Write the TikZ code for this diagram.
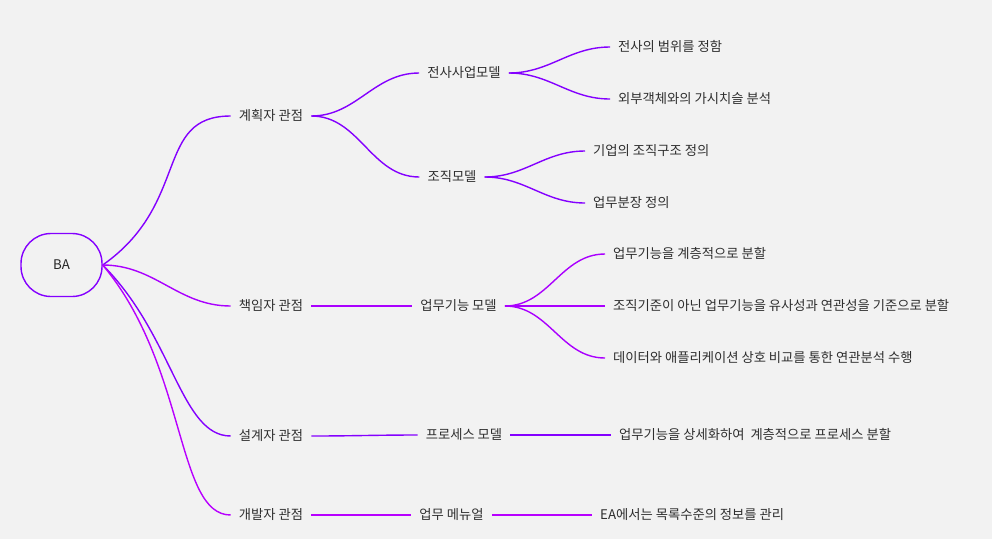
\documentclass[tikz,border=0pt]{standalone}
\usepackage{fontspec}
\setmainfont{Noto Sans CJK KR}
\usetikzlibrary{positioning}
\definecolor{mmBg}{HTML}{F2F2F2}
\definecolor{mmText}{HTML}{2E2E2E}
\definecolor{mmViolet}{HTML}{8400FF}
\definecolor{mmPurple}{HTML}{AA00FF}
\definecolor{mmMagenta}{HTML}{B800FF}

\begin{document}
\begin{tikzpicture}[
      x=1pt, y=-1pt,
      font=\fontsize{13.3}{15}\selectfont,
      lbl/.style={inner xsep=8pt, inner ysep=0pt, text height=9.5pt, text depth=0pt,
                  text=mmText},
      leaf/.style={lbl, anchor=west},
      rootbox/.style={draw=mmViolet, line width=1.4pt, rounded corners=30pt,
                  minimum width=81pt, minimum height=63pt, text=black!85},
      edge/.style={line width=1.4pt, out=0, in=180},
    ]

    % ---------- background ----------
    \fill[mmBg] (0,0) rectangle (992,539);
    \useasboundingbox (0,0) rectangle (992,539);

    % ---------- root ----------
    \node[rootbox] (ba) at (61.5,265) {BA};

    % ---------- perspectives ----------
    \node[lbl] (p1) at (271,116) {계획자 관점};
    \node[lbl] (p2) at (271,306) {책임자 관점};
    \node[lbl] (p3) at (271,436) {설계자 관점};
    \node[lbl] (p4) at (271,515) {개발자 관점};

    % ---------- models ----------
    \node[lbl] (m1) at (464,73)    {전사사업모델};
    \node[lbl] (m2) at (452,177)   {조직모델};
    \node[lbl] (m3) at (458.5,306) {업무기능 모델};
    \node[lbl] (m4) at (464,435)   {프로세스 모델};
    \node[lbl] (m5) at (451.5,515) {업무 메뉴얼};

    % ---------- details ----------
    \node[leaf] (d1)  at (610,47)  {전사의 범위를 정함};
    \node[leaf] (d2)  at (610,99)  {외부객체와의 가시치슬 분석};
    \node[leaf] (d3)  at (585,151) {기업의 조직구조 정의};
    \node[leaf] (d4)  at (585,203) {업무분장 정의};
    \node[leaf] (d5)  at (605,254) {업무기능을 계층적으로 분할};
    \node[leaf] (d6)  at (605,306) {조직기준이 아닌 업무기능을 유사성과 연관성을 기준으로 분할};
    \node[leaf] (d7)  at (605,358) {데이터와 애플리케이션 상호 비교를 통한 연관분석 수행};
    \node[leaf] (d8)  at (611,435) {업무기능을 상세화하여~ 계층적으로 프로세스 분할};
    \node[leaf] (d9)  at (592,515) {EA에서는 목록수준의 정보를 관리};

    % ---------- root -> perspectives ----------
    \foreach \b/\o/\ol/\il/\c in {p1/35/1.4/1/mmViolet, p2/0/1/1/mmPurple,
                                  p3/-45/1.2/0.6/mmViolet, p4/-50/1.2/0.5/mmMagenta}
      \draw[edge, \c, out=\o, out looseness=\ol, in looseness=\il] (ba.east) to (\b.west);

    % ---------- branches ----------
    \foreach \a/\b in {p1/m1, p1/m2, m1/d1, m1/d2, m2/d3, m2/d4}
      \draw[edge, mmViolet] (\a.east) to (\b.west);
    \foreach \a/\b in {p2/m3, m3/d5, m3/d6, m3/d7}
      \draw[edge, mmPurple] (\a.east) to (\b.west);
    \foreach \a/\b in {p3/m4, m4/d8}
      \draw[edge, mmViolet] (\a.east) to (\b.west);
    \foreach \a/\b in {p4/m5, m5/d9}
      \draw[edge, mmMagenta] (\a.east) to (\b.west);

  \end{tikzpicture}
\end{document}
